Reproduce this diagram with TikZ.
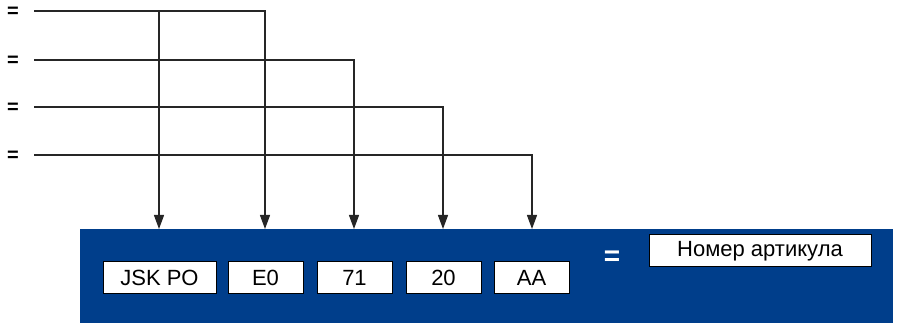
\documentclass[tikz,border=0pt]{standalone}
\usepackage{fontspec}
\setmainfont{Liberation Sans}
\usetikzlibrary{arrows.meta}
\definecolor{panelblue}{RGB}{0,62,139}
\tikzset{
  wire/.style={line width=1.3pt, draw=black!85},
  arr/.style={wire, -{Triangle[length=14pt,width=10pt]}},
  valbox/.style={draw=black, line width=1pt, fill=white, minimum height=32pt, inner sep=0pt, font=\fontsize{22}{24}\selectfont},
  eqlbl/.style={inner sep=0pt, font=\fontsize{20}{22}\selectfont\bfseries},
}
\begin{document}
\begin{tikzpicture}[x=1pt,y=-1pt]
\useasboundingbox (0,0) rectangle (898,323);
% panel
\node[fill=panelblue, minimum width=813pt, minimum height=94pt, inner sep=0pt, anchor=north west] (panel) at (80,229) {};
% value boxes
\node[valbox, minimum width=113pt] (jsk) at (159.5,278) {JSK PO};
\node[valbox, minimum width=75pt] (e0) at (265.5,278) {E0};
\node[valbox, minimum width=75pt] (s71) at (354.5,278) {71};
\node[valbox, minimum width=75pt] (s20) at (443.5,278) {20};
\node[valbox, minimum width=75pt] (aa) at (531.5,278) {AA};
\node[eqlbl, text=white, font=\fontsize{28}{30}\selectfont\bfseries] (eqw) at (612,258) {=};
\node[valbox, minimum width=222pt] (num) at (760,251) {Номер артикула};
% left labels
\node[eqlbl] (l1) at (13,12) {=};
\node[eqlbl] (l2) at (13,61) {=};
\node[eqlbl] (l3) at (13,108) {=};
\node[eqlbl] (l4) at (13,156) {=};
% line starts
\coordinate (s1) at (34,11);
\coordinate (s2) at (34,60);
\coordinate (s3) at (34,107);
\coordinate (s4) at (34,155);
\coordinate (j1) at (159,11);
% targets on the panel top
\coordinate (t1) at (159,229);
\coordinate (t2) at (265,229);
\coordinate (t3) at (354,229);
\coordinate (t4) at (443,229);
\coordinate (t5) at (532,229);
% connectors
\draw[arr] (s1) -| (t2);
\draw[arr] (j1) -- (t1);
\draw[arr] (s2) -| (t3);
\draw[arr] (s3) -| (t4);
\draw[arr] (s4) -| (t5);
\end{tikzpicture}
\end{document}
